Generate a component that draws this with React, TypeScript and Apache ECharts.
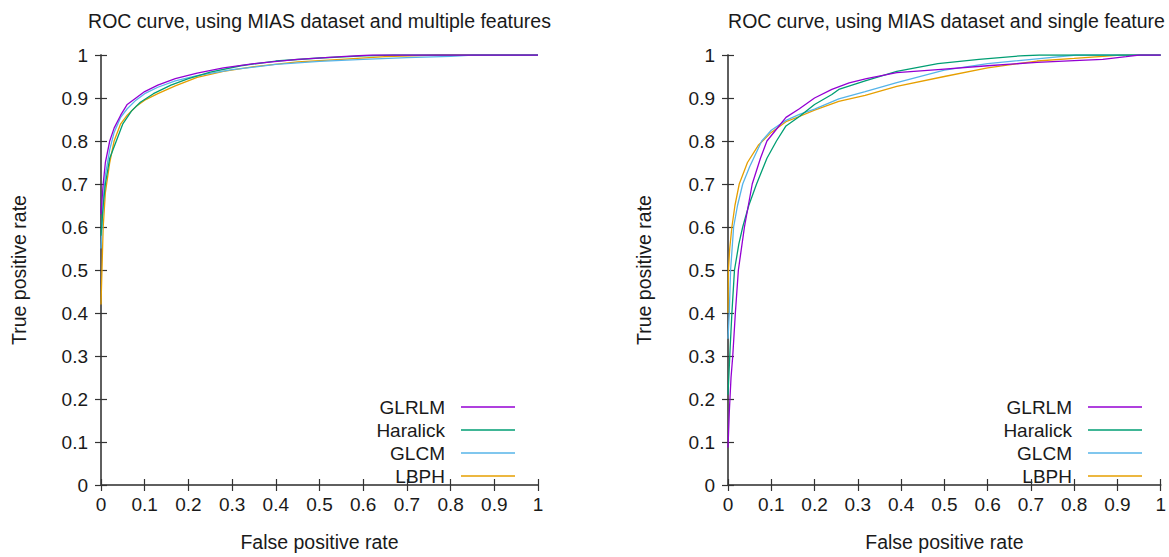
import React, { useEffect, useRef } from "react";
import * as echarts from "echarts";

// ROC curves as [false positive rate, true positive rate] points.
const seriesNames = ["GLRLM", "Haralick", "GLCM", "LBPH"];
const seriesColors = ["#9400d3", "#009e73", "#56b4e9", "#e69f00"];
const tickLabels = ["0", "0.1", "0.2", "0.3", "0.4", "0.5", "0.6", "0.7", "0.8", "0.9", "1"];

// Multiple features
const multiGLRLM = [
  [0, 0.63], [0.005, 0.7], [0.01, 0.75], [0.02, 0.8], [0.03, 0.83], [0.045, 0.86],
  [0.06, 0.885], [0.08, 0.9], [0.1, 0.915], [0.13, 0.93], [0.17, 0.945], [0.22, 0.958],
  [0.28, 0.97], [0.35, 0.98], [0.45, 0.99], [0.55, 0.996], [0.62, 1], [1, 1],
];
const multiHaralick = [
  [0, 0.58], [0.005, 0.65], [0.01, 0.7], [0.02, 0.76], [0.035, 0.8], [0.05, 0.84],
  [0.07, 0.87], [0.09, 0.89], [0.12, 0.91], [0.16, 0.93], [0.2, 0.945], [0.25, 0.96],
  [0.32, 0.975], [0.4, 0.986], [0.5, 0.993], [0.6, 0.998], [0.67, 1], [1, 1],
];
const multiGLCM = [
  [0, 0.55], [0.005, 0.66], [0.01, 0.72], [0.02, 0.78], [0.03, 0.82], [0.045, 0.855],
  [0.06, 0.875], [0.08, 0.895], [0.1, 0.91], [0.13, 0.925], [0.17, 0.94], [0.22, 0.952],
  [0.3, 0.966], [0.4, 0.978], [0.5, 0.985], [0.6, 0.99], [0.7, 0.994], [0.8, 0.997],
  [0.85, 1], [1, 1],
];
const multiLBPH = [
  [0, 0.42], [0.005, 0.6], [0.01, 0.68], [0.02, 0.75], [0.03, 0.8], [0.045, 0.84],
  [0.06, 0.86], [0.08, 0.88], [0.1, 0.895], [0.13, 0.91], [0.17, 0.928], [0.22, 0.948],
  [0.28, 0.962], [0.35, 0.973], [0.45, 0.984], [0.55, 0.99], [0.65, 0.996], [0.77, 1], [1, 1],
];

// Single feature
const singleGLRLM = [
  [0, 0.087], [0.003, 0.17], [0.007, 0.25], [0.011, 0.3], [0.017, 0.4], [0.024, 0.5],
  [0.038, 0.6], [0.056, 0.7], [0.075, 0.76], [0.09, 0.8], [0.11, 0.825], [0.134, 0.855],
  [0.165, 0.875], [0.2, 0.9], [0.24, 0.92], [0.28, 0.935], [0.32, 0.945], [0.39, 0.959],
  [0.485, 0.966], [0.6, 0.975], [0.714, 0.983], [0.8, 0.987], [0.866, 0.99], [0.92, 0.996],
  [0.95, 1], [1, 1],
];
const singleHaralick = [
  [0, 0.21], [0.005, 0.32], [0.009, 0.4], [0.015, 0.5], [0.025, 0.56], [0.034, 0.6],
  [0.048, 0.65], [0.066, 0.7], [0.09, 0.76], [0.112, 0.8], [0.134, 0.835], [0.165, 0.857],
  [0.2, 0.885], [0.24, 0.908], [0.256, 0.92], [0.317, 0.94], [0.39, 0.962], [0.485, 0.98],
  [0.58, 0.99], [0.675, 0.998], [0.72, 1], [1, 1],
];
const singleGLCM = [
  [0, 0.34], [0.003, 0.4], [0.006, 0.5], [0.013, 0.6], [0.022, 0.65], [0.034, 0.7],
  [0.05, 0.74], [0.078, 0.8], [0.1, 0.825], [0.134, 0.848], [0.165, 0.862], [0.2, 0.874],
  [0.256, 0.898], [0.317, 0.915], [0.39, 0.936], [0.5, 0.965], [0.6, 0.98], [0.714, 0.991],
  [0.805, 1], [1, 1],
];
const singleLBPH = [
  [0, 0.4], [0.001, 0.5], [0.004, 0.55], [0.009, 0.6], [0.016, 0.65], [0.026, 0.7],
  [0.045, 0.75], [0.07, 0.79], [0.1, 0.82], [0.134, 0.845], [0.165, 0.857], [0.2, 0.872],
  [0.256, 0.892], [0.317, 0.906], [0.39, 0.927], [0.5, 0.95], [0.6, 0.97], [0.714, 0.986],
  [0.8, 0.992], [0.866, 0.997], [0.905, 1], [1, 1],
];

const panelTitles = [
  "ROC curve, using MIAS dataset and multiple features",
  "ROC curve, using MIAS dataset and single feature",
];
const panelData = [
  [multiGLRLM, multiHaralick, multiGLCM, multiLBPH],
  [singleGLRLM, singleHaralick, singleGLCM, singleLBPH],
];

const FONT = "'Liberation Sans', Arial, sans-serif";
const TEXT = "#1a1a1a";
const BORDER = "#555";

const W = 1169;
const H = 557;
const PLOT_W = 437;
const PLOT_H = 436;
const PLOT_TOP = 55;
const PLOT_LEFTS = [101, 728];

const fmt = (v: number) => tickLabels[Math.round(v * 10)] ?? String(v);

export default function App() {
  const ref = useRef<HTMLDivElement>(null);

  useEffect(() => {
    if (!ref.current) return;
    const chart = echarts.init(ref.current, null, { renderer: "svg" });

    const grids = PLOT_LEFTS.map((left) => ({
      left,
      top: PLOT_TOP,
      width: PLOT_W,
      height: PLOT_H,
      containLabel: false,
    }));

    const axisLine = { show: true, lineStyle: { color: BORDER, width: 1.5 } };
    const axisTick = { show: true, inside: true, length: 6, lineStyle: { color: "#333", width: 1.2 } };
    const labelStyle = { color: TEXT, fontSize: 19, fontFamily: FONT };

    const xAxis: any[] = [];
    const yAxis: any[] = [];
    PLOT_LEFTS.forEach((_, g) => {
      xAxis.push({
        gridIndex: g, type: "value", min: 0, max: 1, interval: 0.1, position: "bottom",
        axisLine, axisTick, splitLine: { show: false },
        axisLabel: { ...labelStyle, margin: 10, formatter: fmt },
        name: "False positive rate", nameLocation: "middle", nameGap: 47,
        nameTextStyle: { color: TEXT, fontSize: 19.5, fontFamily: FONT },
      });
      xAxis.push({
        gridIndex: g, type: "value", min: 0, max: 1, interval: 0.1, position: "top",
        axisLine, axisTick, splitLine: { show: false }, axisLabel: { show: false },
      });
      yAxis.push({
        gridIndex: g, type: "value", min: 0, max: 1, interval: 0.1, position: "left",
        axisLine, axisTick, splitLine: { show: false },
        axisLabel: { ...labelStyle, margin: 13, formatter: fmt },
        name: "True positive rate", nameLocation: "middle", nameGap: g === 0 ? 72 : 74,
        nameTextStyle: { color: TEXT, fontSize: 19.5, fontFamily: FONT },
      });
      yAxis.push({
        gridIndex: g, type: "value", min: 0, max: 1, interval: 0.1, position: "right",
        axisLine, axisTick, splitLine: { show: false }, axisLabel: { show: false },
      });
    });

    const series: any[] = [];
    panelData.forEach((curves, g) => {
      curves.forEach((pts, i) => {
        series.push({
          type: "line",
          name: seriesNames[i],
          xAxisIndex: g * 2,
          yAxisIndex: g * 2,
          data: pts,
          showSymbol: false,
          symbol: "none",
          lineStyle: { color: seriesColors[i], width: 1.3 },
          itemStyle: { color: seriesColors[i] },
          z: 10 - i,
        });
      });
    });

    // Key drawn inside each panel: label on the left, line sample on the right
    const rowY = [407, 430, 453, 476];
    const graphic: any[] = [];
    PLOT_LEFTS.forEach((left) => {
      const right = left + PLOT_W;
      seriesNames.forEach((name, i) => {
        graphic.push({
          type: "text",
          x: right - 93,
          y: rowY[i],
          style: {
            text: name, fill: TEXT, fontSize: 19, fontFamily: FONT,
            textAlign: "right", textVerticalAlign: "middle",
          },
        });
        graphic.push({
          type: "line",
          shape: { x1: right - 77, y1: rowY[i], x2: right - 23, y2: rowY[i] },
          style: { stroke: seriesColors[i], lineWidth: 1.3 },
        });
      });
    });

    chart.setOption({
      animation: false,
      backgroundColor: "#fff",
      title: panelTitles.map((text, g) => ({
        text,
        left: PLOT_LEFTS[g] + PLOT_W / 2,
        top: 11,
        textAlign: "center",
        padding: 0,
        textStyle: { color: TEXT, fontSize: 19.5, fontWeight: "normal", fontFamily: FONT },
      })),
      grid: grids,
      xAxis,
      yAxis,
      series,
      graphic,
    });

    return () => chart.dispose();
  }, []);

  return (
    <div
      ref={ref}
      style={{ position: "fixed", left: 0, top: 0, width: W, height: H, background: "#fff" }}
    />
  );
}
